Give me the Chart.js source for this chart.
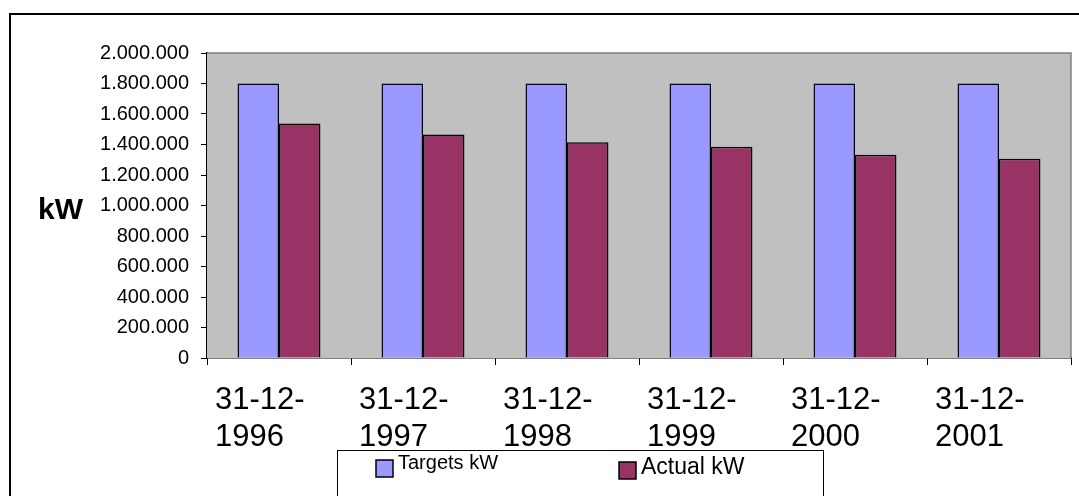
<!DOCTYPE html>
<html>
<head>
<meta charset="utf-8">
<script src="https://cdn.jsdelivr.net/npm/chart.js@4.4.1/dist/chart.umd.min.js"></script>
<style>
    html, body { margin: 0; padding: 0; background: #fff; }
    #wrap { width: 1079px; height: 496px; position: relative; }
</style>
</head>
<body>
<div id="wrap"><canvas id="kwChart"></canvas></div>
<script>
const fechas = [['31-12-', '1996'], ['31-12-', '1997'], ['31-12-', '1998'], ['31-12-', '1999'], ['31-12-', '2000'], ['31-12-', '2001']];
const targetsKw = [1800000, 1800000, 1800000, 1800000, 1800000, 1800000];
const actualKw = [1537000, 1465000, 1414000, 1386000, 1333000, 1307000];
const yMax = 2000000;
const yStep = 200000;

function puntos(v) {
    return String(v).replace(/\B(?=(\d{3})+(?!\d))/g, '.');
}

// frame, grey plot area, "kW" label and the boxed legend
const marcoPlugin = {
    id: 'marco',
    beforeDatasetsDraw(chart) {
        const ctx = chart.ctx;
        const a = chart.chartArea;
        ctx.save();
        ctx.fillStyle = '#c0c0c0';
        ctx.fillRect(a.left, a.top, a.right - a.left, a.bottom - a.top);
        ctx.strokeStyle = '#808080';
        ctx.lineWidth = 1.5;
        ctx.beginPath();
        ctx.moveTo(a.left, a.top);
        ctx.lineTo(a.right, a.top);
        ctx.lineTo(a.right, a.bottom);
        ctx.stroke();
        ctx.restore();
    },
    afterDraw(chart) {
        const ctx = chart.ctx;
        ctx.save();
        // outer frame
        ctx.strokeStyle = '#000';
        ctx.lineWidth = 2;
        ctx.strokeRect(10, 14, 1200, 600);
        // axis label
        ctx.fillStyle = '#000';
        ctx.font = 'bold 30px "Liberation Sans", Arial, sans-serif';
        ctx.textAlign = 'left';
        ctx.textBaseline = 'alphabetic';
        ctx.fillText('kW', 38, 219);
        // legend box
        ctx.lineWidth = 1;
        ctx.strokeStyle = '#000';
        ctx.strokeRect(337.5, 450.5, 486, 100);
        const items = [
            {x: 376, y: 460, size: 20, base: 469},
            {x: 619, y: 462, size: 23, base: 474}
        ];
        chart.data.datasets.forEach((ds, i) => {
            const it = items[i];
            ctx.fillStyle = ds.backgroundColor;
            ctx.fillRect(it.x, it.y, 17, 17);
            ctx.lineWidth = 1.5;
            ctx.strokeStyle = '#000';
            ctx.strokeRect(it.x, it.y, 17, 17);
            ctx.fillStyle = '#000';
            ctx.font = it.size + 'px "Liberation Sans", Arial, sans-serif';
            ctx.fillText(ds.label, it.x + 22, it.base);
        });
        ctx.restore();
    }
};

const kwConfig = {
    type: 'bar',
    data: {
        labels: fechas,
        datasets: [{
                label: 'Targets kW',
                data: targetsKw,
                backgroundColor: '#9999ff',
                borderColor: '#000',
                borderWidth: 1.5
            }, {
                label: 'Actual kW',
                data: actualKw,
                backgroundColor: '#993366',
                borderColor: '#000',
                borderWidth: 1.5
            }]
    },
    options: {
        responsive: true,
        maintainAspectRatio: false,
        animation: false,
        layout: {
            autoPadding: false,
            padding: {left: 0, top: 53, right: 8, bottom: 0}
        },
        datasets: {
            bar: {
                categoryPercentage: 0.576,
                barPercentage: 1
            }
        },
        plugins: {
            legend: {display: false},
            tooltip: {enabled: false}
        },
        scales: {
            x: {
                afterFit(scale) {
                    scale.height = 138;
                    scale.paddingLeft = 0;
                    scale.paddingRight = 0;
                },
                border: {color: '#000', width: 1.5},
                grid: {
                    drawOnChartArea: false,
                    color: '#000',
                    tickLength: 7,
                    offset: true
                },
                ticks: {
                    color: '#000',
                    font: {family: '"Liberation Sans", Arial, sans-serif', size: 31, lineHeight: 1.2},
                    align: 'start',
                    labelOffset: -64,
                    padding: 17,
                    maxRotation: 0,
                    autoSkip: false
                }
            },
            y: {
                min: 0,
                max: yMax,
                afterFit(scale) {
                    scale.width = 207;
                },
                border: {color: '#000', width: 1.5},
                grid: {
                    drawOnChartArea: false,
                    color: '#000',
                    tickLength: 6
                },
                ticks: {
                    stepSize: yStep,
                    color: '#000',
                    padding: 12,
                    font: {family: '"Liberation Sans", Arial, sans-serif', size: 20},
                    callback: v => puntos(v)
                }
            }
        }
    },
    plugins: [marcoPlugin]
};

var kwChart = new Chart(
        document.getElementById('kwChart'),
        kwConfig
        );
</script>
</body>
</html>
